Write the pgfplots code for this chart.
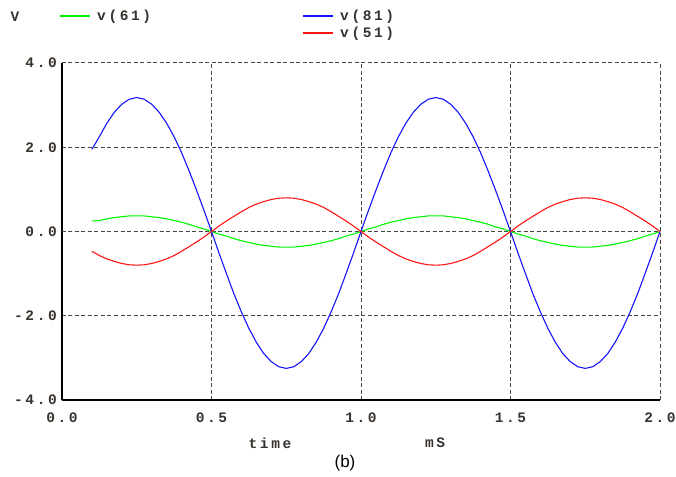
\documentclass[border=0pt]{standalone}
\usepackage{fontspec}
\usepackage{pgfplots}
\pgfplotsset{compat=1.18}
\usepackage{pgfplotstable}
\setmainfont{Liberation Sans}
\newfontfamily\spice[LetterSpace=18]{Liberation Mono}
\definecolor{lbl}{RGB}{55,50,45}
\definecolor{grd}{RGB}{70,70,70}
\definecolor{vgreen}{RGB}{0,245,0}
\definecolor{vblue}{RGB}{20,20,255}
\definecolor{vred}{RGB}{255,20,20}
\newcommand{\spfont}{\spice\bfseries\fontsize{14.5}{15}\selectfont\color{lbl}}

% time (ms), v(81), v(61), v(51)
\pgfplotstableread{
t b g r
0.100 1.95 0.25 -0.47
0.125 2.25 0.26 -0.57
0.150 2.57 0.30 -0.65
0.175 2.83 0.33 -0.71
0.200 3.02 0.35 -0.76
0.225 3.14 0.37 -0.79
0.250 3.18 0.37 -0.80
0.275 3.14 0.37 -0.79
0.300 3.02 0.35 -0.76
0.325 2.83 0.33 -0.71
0.350 2.57 0.30 -0.65
0.375 2.25 0.26 -0.57
0.400 1.87 0.22 -0.47
0.425 1.44 0.17 -0.36
0.450 0.98 0.11 -0.25
0.475 0.50 0.06 -0.13
0.500 0.00 0.00 0.00
0.525 -0.51 -0.06 0.13
0.550 -1.00 -0.11 0.25
0.575 -1.48 -0.17 0.36
0.600 -1.91 -0.22 0.47
0.625 -2.30 -0.26 0.57
0.650 -2.63 -0.30 0.65
0.675 -2.90 -0.33 0.71
0.700 -3.09 -0.35 0.76
0.725 -3.21 -0.37 0.79
0.750 -3.25 -0.37 0.80
0.775 -3.21 -0.37 0.79
0.800 -3.09 -0.35 0.76
0.825 -2.90 -0.33 0.71
0.850 -2.63 -0.30 0.65
0.875 -2.30 -0.26 0.57
0.900 -1.91 -0.22 0.47
0.925 -1.48 -0.17 0.36
0.950 -1.00 -0.11 0.25
0.975 -0.51 -0.06 0.13
1.000 0.00 0.00 0.00
1.025 0.50 0.06 -0.13
1.050 0.98 0.11 -0.25
1.075 1.44 0.17 -0.36
1.100 1.87 0.22 -0.47
1.125 2.25 0.26 -0.57
1.150 2.57 0.30 -0.65
1.175 2.83 0.33 -0.71
1.200 3.02 0.35 -0.76
1.225 3.14 0.37 -0.79
1.250 3.18 0.37 -0.80
1.275 3.14 0.37 -0.79
1.300 3.02 0.35 -0.76
1.325 2.83 0.33 -0.71
1.350 2.57 0.30 -0.65
1.375 2.25 0.26 -0.57
1.400 1.87 0.22 -0.47
1.425 1.44 0.17 -0.36
1.450 0.98 0.11 -0.25
1.475 0.50 0.06 -0.13
1.500 0.00 0.00 0.00
1.525 -0.51 -0.06 0.13
1.550 -1.00 -0.11 0.25
1.575 -1.48 -0.17 0.36
1.600 -1.91 -0.22 0.47
1.625 -2.30 -0.26 0.57
1.650 -2.63 -0.30 0.65
1.675 -2.90 -0.33 0.71
1.700 -3.09 -0.35 0.76
1.725 -3.21 -0.37 0.79
1.750 -3.25 -0.37 0.80
1.775 -3.21 -0.37 0.79
1.800 -3.09 -0.35 0.76
1.825 -2.90 -0.33 0.71
1.850 -2.63 -0.30 0.65
1.875 -2.30 -0.26 0.57
1.900 -1.91 -0.22 0.47
1.925 -1.48 -0.17 0.36
1.950 -1.00 -0.11 0.25
1.975 -0.51 -0.06 0.13
2.000 0.00 0.00 0.00
}\volts

\begin{document}
\begin{tikzpicture}
\begin{axis}[
    scale only axis,
    width=598pt, height=337pt,
    xmin=0, xmax=2, ymin=-4, ymax=4,
    axis x line*=bottom, axis y line*=left,
    axis line style={black, line width=1.3pt, -},
    xtick={0,0.5,1,1.5,2},
    xticklabels={0.0,0.5,1.0,1.5,2.0},
    ytick={-4,-2,0,2,4},
    yticklabels={-4.0,-2.0,0.0,2.0,4.0},
    major tick length=0pt,
    xticklabel style={font=\spfont, inner sep=0pt, anchor=north, yshift=-13pt},
    yticklabel style={font=\spfont, inner sep=0pt, anchor=east, xshift=-5pt},
    grid=major,
    major grid style={grd, line width=1pt, dash pattern=on 4pt off 2.5pt},
    extra y ticks={0},
    extra y tick labels={},
    extra y tick style={grid style={black, line width=1.2pt, solid}},
    clip=false,
]
\addplot[vgreen, line width=1.1pt] table[x=t, y=g] {\volts};
\addplot[vblue, line width=1.1pt] table[x=t, y=b] {\volts};
\addplot[vred, line width=1.1pt] table[x=t, y=r] {\volts};
\end{axis}
% legend and labels
\node[font=\spfont] at (-47pt,383pt) {V};
\draw[vgreen, line width=1.1pt] (-2pt,384pt) -- (28pt,384pt);
\node[font=\spfont, anchor=west, inner sep=0pt] at (35pt,383pt) {v(61)};
\draw[vblue, line width=1.1pt] (241pt,384pt) -- (271pt,384pt);
\node[font=\spfont, anchor=west, inner sep=0pt] at (278pt,383pt) {v(81)};
\draw[vred, line width=1.1pt] (241pt,367pt) -- (271pt,367pt);
\node[font=\spfont, anchor=west, inner sep=0pt] at (278pt,366pt) {v(51)};
\node[font=\spfont] at (208pt,-43pt) {time};
\node[font=\spfont] at (373pt,-43pt) {mS};
\node[font=\fontsize{17}{18}\selectfont] at (283pt,-63pt) {(b)};
\path ([shift={(-62pt,-76pt)}]current axis.south west) rectangle ([shift={(16pt,63pt)}]current axis.north east);
\end{tikzpicture}
\end{document}
